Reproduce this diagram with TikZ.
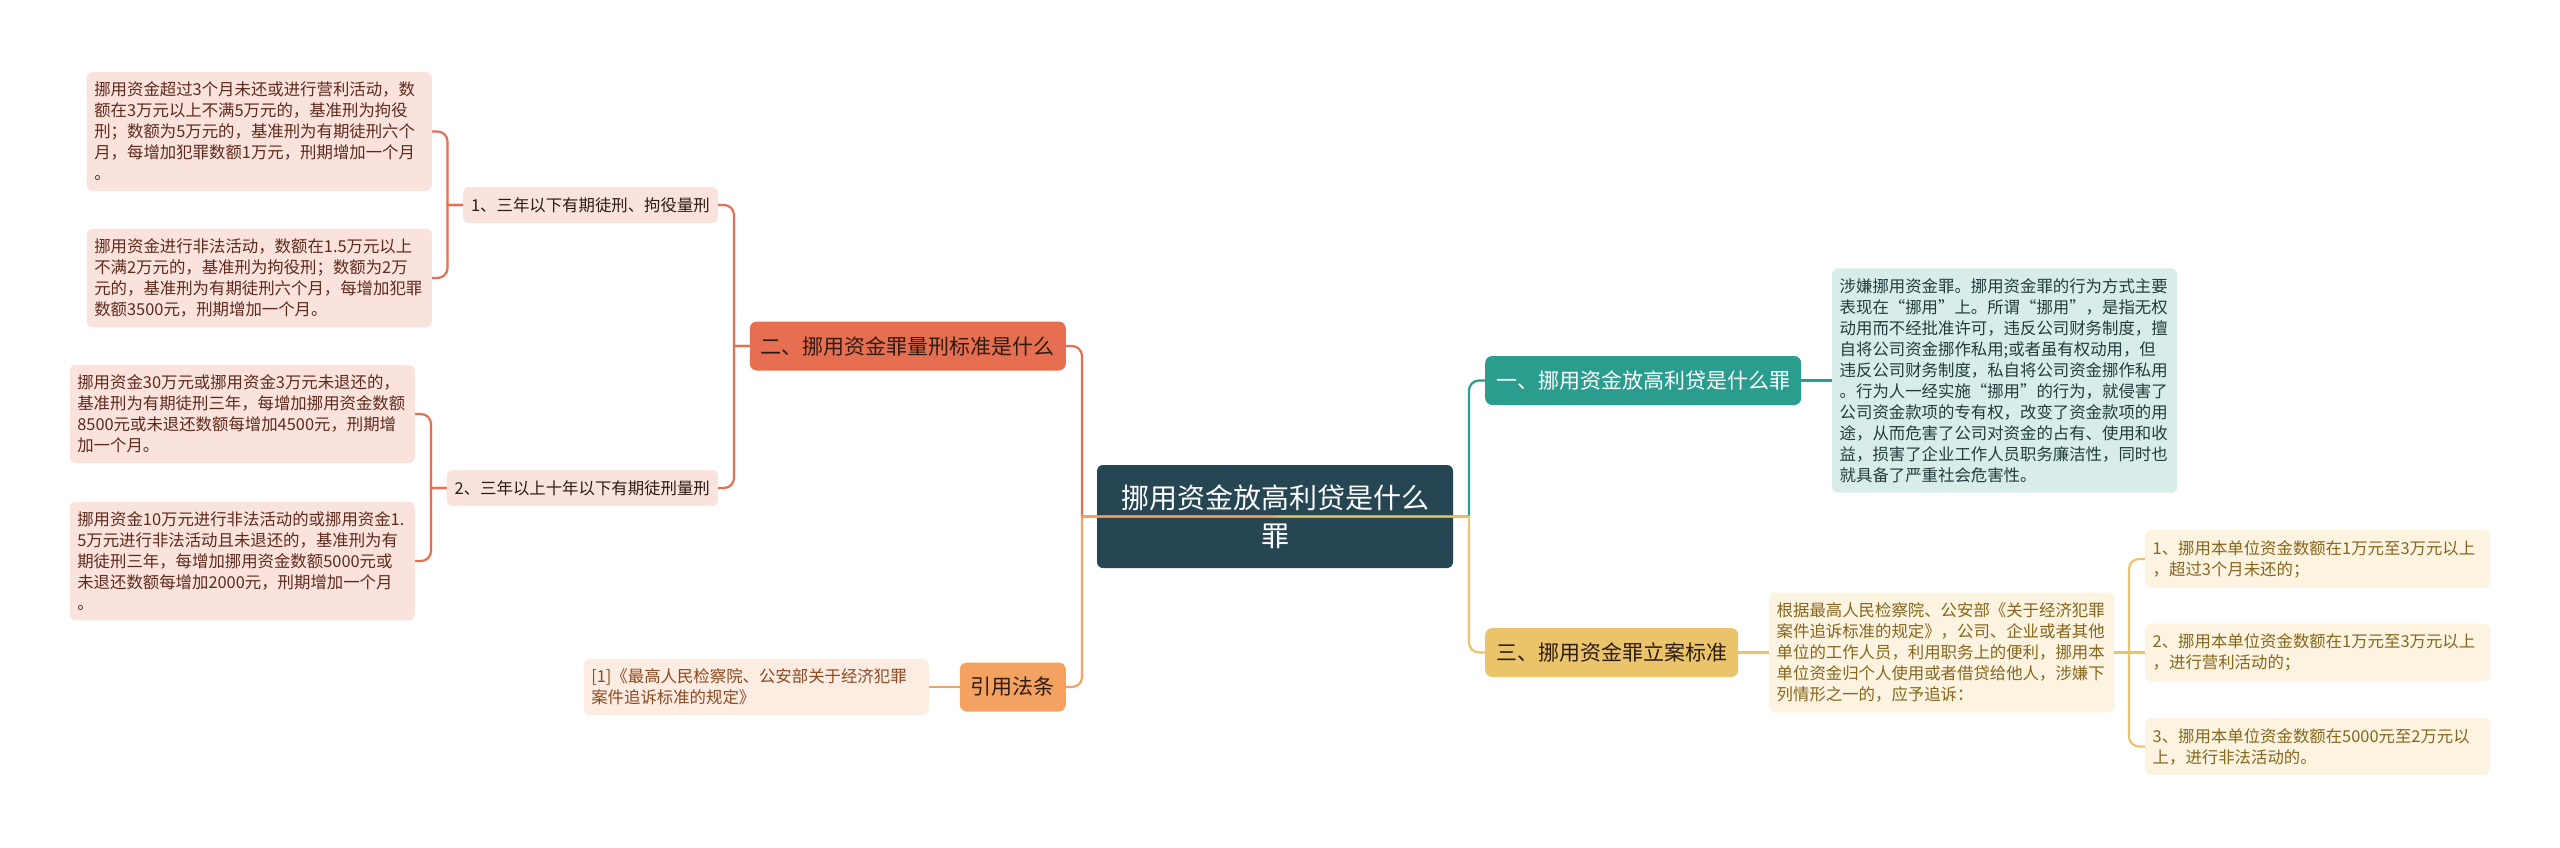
\documentclass[tikz,border=0pt]{standalone}
\usepackage{fontspec}
\setmainfont{Noto Sans CJK SC}
\definecolor{rootfill}{HTML}{264653}
\definecolor{tealfill}{HTML}{2A9D8F}
\definecolor{yellowfill}{HTML}{E9C46A}
\definecolor{orangefill}{HTML}{F4A261}
\definecolor{redfill}{HTML}{E76F51}
\definecolor{redleaf}{HTML}{FAE3DC}
\definecolor{redtext}{HTML}{5E2A1C}
\definecolor{tealleaf}{HTML}{D8EDEA}
\definecolor{tealtext}{HTML}{1F3D3B}
\definecolor{yellowleaf}{HTML}{FCF3E0}
\definecolor{yellowtext}{HTML}{86661C}
\definecolor{orangeleaf}{HTML}{FDECE1}
\definecolor{orangetext}{HTML}{8A4A22}
\definecolor{darktext}{HTML}{2E1C14}

\begin{document}
\begin{tikzpicture}[
    x=1pt, y=-1pt,
    root/.style={fill=rootfill, text=white, rounded corners=6pt,
      minimum width=356pt, minimum height=103pt, align=center,
      font=\fontsize{28}{38}\selectfont},
    topic/.style={rounded corners=7pt, minimum height=49pt, inner xsep=11pt,
      inner ysep=0pt, font=\fontsize{21}{25}\selectfont},
    subtopic/.style={fill=redleaf, text=darktext, rounded corners=6pt,
      minimum height=36pt, inner xsep=8pt, inner ysep=0pt,
      font=\fontsize{16.4}{21}\selectfont},
    leaf/.style={rounded corners=6pt, text width=330pt, inner xsep=7.5pt,
      inner ysep=10pt, align=left, font=\fontsize{16.4}{21}\selectfont},
    link/.style={draw=#1, line width=2.2pt},
  ]
  % 背景
  \fill[white] (0,0) rectangle (2560,847);
  % 定义各分支的折点
  \coordinate (l) at (1082,0);
  \coordinate (r) at (1469,0);
  \coordinate (c) at (734,0);
  \coordinate (e) at (447.5,0);
  \coordinate (f) at (431,0);
  \coordinate (k) at (2129,0);
  % 中心主题
  \node[root] (O) at (1275,516.5) {挪用资金放高利贷是什么\\罪};
  % 右侧一级主题
  \node[topic, fill=tealfill, text=white, anchor=west] (A) at (1485,380.5)
    {一、挪用资金放高利贷是什么罪};
  \node[topic, fill=yellowfill, text=darktext, anchor=west] (B) at (1485,652.5)
    {三、挪用资金罪立案标准};
  % 左侧一级主题
  \node[topic, fill=redfill, text=darktext, anchor=east] (C) at (1066,346)
    {二、挪用资金罪量刑标准是什么};
  \node[topic, fill=orangefill, text=darktext, anchor=east] (D) at (1066,687)
    {引用法条};
  % 二级主题
  \node[subtopic, anchor=east] (E) at (718,205) {1、三年以下有期徒刑、拘役量刑};
  \node[subtopic, anchor=east] (F) at (718,488) {2、三年以上十年以下有期徒刑量刑};
  % 左侧内容
  \node[leaf, fill=redleaf, text=redtext, anchor=east] (E1) at (432,131.5)
    {挪用资金超过3个月未还或进行营利活动，数\\
     额在3万元以上不满5万元的，基准刑为拘役\\
     刑；数额为5万元的，基准刑为有期徒刑六个\\
     月，每增加犯罪数额1万元，刑期增加一个月\\
     。};
  \node[leaf, fill=redleaf, text=redtext, anchor=east] (E2) at (432,278)
    {挪用资金进行非法活动，数额在1.5万元以上\\
     不满2万元的，基准刑为拘役刑；数额为2万\\
     元的，基准刑为有期徒刑六个月，每增加犯罪\\
     数额3500元，刑期增加一个月。};
  \node[leaf, fill=redleaf, text=redtext, anchor=east] (F1) at (415,414)
    {挪用资金30万元或挪用资金3万元未退还的，\\
     基准刑为有期徒刑三年，每增加挪用资金数额\\
     8500元或未退还数额每增加4500元，刑期增\\
     加一个月。};
  \node[leaf, fill=redleaf, text=redtext, anchor=east] (F2) at (415,561)
    {挪用资金10万元进行非法活动的或挪用资金1.\\
     5万元进行非法活动且未退还的，基准刑为有\\
     期徒刑三年，每增加挪用资金数额5000元或\\
     未退还数额每增加2000元，刑期增加一个月\\
     。};
  \node[leaf, fill=orangeleaf, text=orangetext, anchor=east] (G) at (929,687)
    {[1]《最高人民检察院、公安部关于经济犯罪\\
     案件追诉标准的规定》};
  % 右侧内容
  \node[leaf, fill=tealleaf, text=tealtext, anchor=west] (H) at (1832,380.5)
    {涉嫌挪用资金罪。挪用资金罪的行为方式主要\\
     表现在“挪用”上。所谓“挪用”，是指无权\\
     动用而不经批准许可，违反公司财务制度，擅\\
     自将公司资金挪作私用;或者虽有权动用，但\\
     违反公司财务制度，私自将公司资金挪作私用\\
     。行为人一经实施“挪用”的行为，就侵害了\\
     公司资金款项的专有权，改变了资金款项的用\\
     途，从而危害了公司对资金的占有、使用和收\\
     益，损害了企业工作人员职务廉洁性，同时也\\
     就具备了严重社会危害性。};
  \node[leaf, fill=yellowleaf, text=yellowtext, anchor=west] (K) at (1769,652.5)
    {根据最高人民检察院、公安部《关于经济犯罪\\
     案件追诉标准的规定》，公司、企业或者其他\\
     单位的工作人员，利用职务上的便利，挪用本\\
     单位资金归个人使用或者借贷给他人，涉嫌下\\
     列情形之一的，应予追诉：};
  \node[leaf, fill=yellowleaf, text=yellowtext, anchor=west] (K1) at (2145,559)
    {1、挪用本单位资金数额在1万元至3万元以上\\
     ，超过3个月未还的；};
  \node[leaf, fill=yellowleaf, text=yellowtext, anchor=west] (K2) at (2145,652.5)
    {2、挪用本单位资金数额在1万元至3万元以上\\
     ，进行营利活动的；};
  \node[leaf, fill=yellowleaf, text=yellowtext, anchor=west] (K3) at (2145,746.5)
    {3、挪用本单位资金数额在5000元至2万元以\\
     上，进行非法活动的。};
  % 中心到一级主题
  \draw[link=tealfill] (O.center) -- (O.center -| r) [rounded corners=10pt] |- (A.west);
  \draw[link=yellowfill] (O.center) -- (O.center -| r) [rounded corners=10pt] |- (B.west);
  \draw[link=redfill] (O.center) -- (O.center -| l) [rounded corners=10pt] |- (C.east);
  \draw[link=orangefill] (O.center) -- (O.center -| l) [rounded corners=10pt] |- (D.east);
  % 一级到二级
  \draw[link=tealfill] (A.east) -- (H.west);
  \draw[link=yellowfill] (B.east) -- (K.west);
  \draw[link=orangefill] (D.west) -- (G.east);
  \draw[link=redfill] (C.west) -- (C.west -| c) [rounded corners=10pt] |- (E.east);
  \draw[link=redfill] (C.west) -- (C.west -| c) [rounded corners=10pt] |- (F.east);
  % 二级到内容
  \draw[link=redfill] (E.west) -- (E.west -| e) [rounded corners=10pt] |- (E1.east);
  \draw[link=redfill] (E.west) -- (E.west -| e) [rounded corners=10pt] |- (E2.east);
  \draw[link=redfill] (F.west) -- (F.west -| f) [rounded corners=10pt] |- (F1.east);
  \draw[link=redfill] (F.west) -- (F.west -| f) [rounded corners=10pt] |- (F2.east);
  \draw[link=yellowfill] (K.east) -- (K.east -| k) [rounded corners=10pt] |- (K1.west);
  \draw[link=yellowfill] (K.east) -- (K2.west);
  \draw[link=yellowfill] (K.east) -- (K.east -| k) [rounded corners=10pt] |- (K3.west);
\end{tikzpicture}
\end{document}
